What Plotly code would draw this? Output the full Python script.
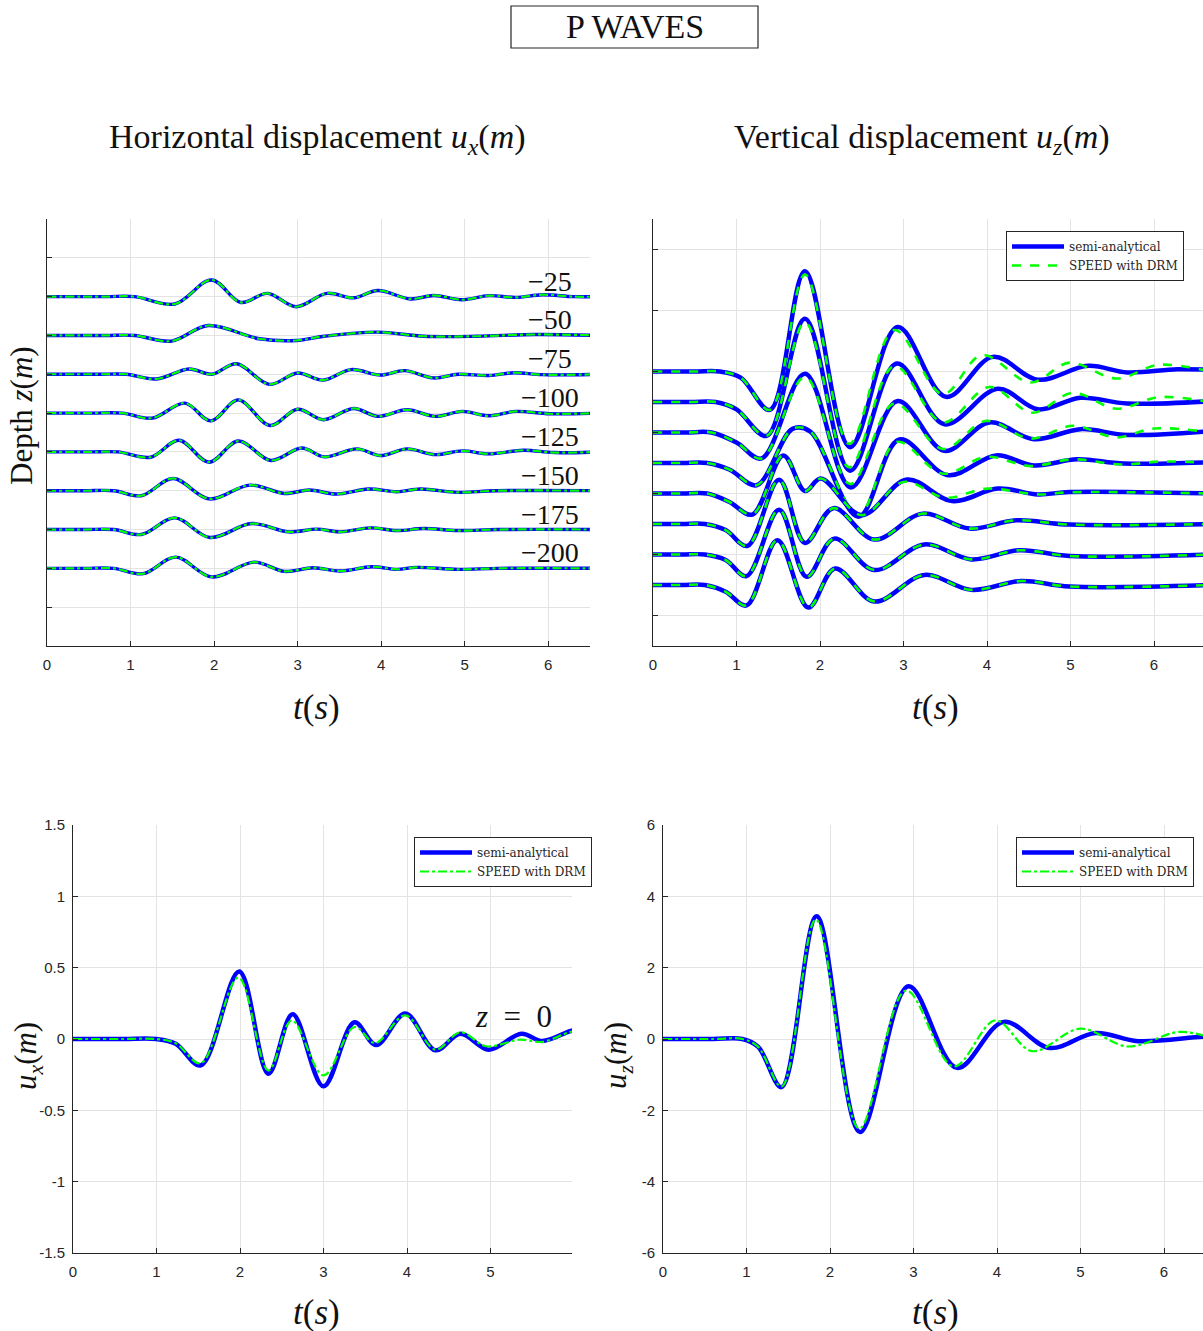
import plotly.graph_objects as go

# ---------------------------------------------------------------------------
# Data: P-wave displacement time histories (t in s, displacement in m)
# ---------------------------------------------------------------------------
DEPTHS = [-25, -50, -75, -100, -125, -150, -175, -200]
DEPTH_LABELS = ["\u221225", "\u221250", "\u221275", "\u2212100",
                "\u2212125", "\u2212150", "\u2212175", "\u2212200"]
TRACE_SCALE = 25  # metres of depth offset per metre of displacement

# Horizontal displacement u_x at depth (semi-analytical and SPEED coincide)
ux_t_25 = [0, 0.7, 1.05, 1.53, 1.97, 2.32, 2.64, 2.98, 3.35, 3.67, 3.96, 4.35, 4.63, 4.97, 5.29, 5.61, 5.93, 6.3, 6.6]
ux_25 = [0, 0, 0, -0.19, 0.43, -0.15, 0.085, -0.26, 0.085, -0.03, 0.16, -0.06, 0.03, -0.08, 0.025, -0.02, 0.05, 0.0, 0.0]
ux_t_50 = [0, 0.7, 1.05, 1.49, 1.93, 2.54, 2.98, 3.32, 3.96, 4.51, 5.15, 5.84, 6.6]
ux_50 = [0, 0, 0, -0.145, 0.256, -0.085, -0.13, -0.02, 0.085, -0.02, -0.02, 0.025, 0]
ux_t_75 = [0, 0.6, 0.95, 1.31, 1.70, 1.97, 2.27, 2.66, 3.0, 3.30, 3.64, 3.99, 4.28, 4.63, 4.92, 5.29, 5.59, 5.93, 6.6]
ux_75 = [0, 0, 0, -0.12, 0.137, 0.0, 0.27, -0.26, 0.034, -0.15, 0.12, -0.02, 0.094, -0.094, 0.0, -0.03, 0.04, -0.01, 0]
ux_t_100 = [0, 0.55, 0.9, 1.26, 1.65, 1.96, 2.29, 2.67, 3.0, 3.31, 3.67, 3.96, 4.31, 4.65, 4.97, 5.29, 5.61, 6.02, 6.6]
ux_100 = [0, 0, 0, -0.13, 0.256, -0.2, 0.34, -0.32, 0.10, -0.17, 0.12, -0.085, 0.085, -0.085, 0.043, -0.07, 0.043, -0.017, 0]
ux_t_125 = [0, 0.5, 0.85, 1.24, 1.58, 1.94, 2.29, 2.68, 3.05, 3.32, 3.71, 3.99, 4.31, 4.65, 4.97, 5.29, 5.70, 6.07, 6.6]
ux_125 = [0, 0, 0, -0.137, 0.30, -0.265, 0.28, -0.22, 0.10, -0.128, 0.077, -0.094, 0.077, -0.07, 0.026, -0.05, 0.043, -0.017, 0]
ux_t_150 = [0, 0.45, 0.8, 1.13, 1.51, 1.94, 2.43, 2.84, 3.14, 3.46, 3.85, 4.19, 4.47, 4.92, 5.38, 6.6]
ux_150 = [0, 0, 0, -0.128, 0.316, -0.21, 0.145, -0.07, 0.017, -0.085, 0.043, -0.026, 0.043, -0.043, 0, 0]
ux_t_175 = [0, 0.45, 0.8, 1.13, 1.53, 1.95, 2.45, 2.89, 3.23, 3.51, 3.87, 4.19, 4.51, 4.92, 5.4, 6.6]
ux_175 = [0, 0, 0, -0.128, 0.30, -0.205, 0.154, -0.06, 0.01, -0.06, 0.043, -0.026, 0.026, -0.026, 0, 0]
ux_t_200 = [0, 0.45, 0.8, 1.15, 1.54, 1.97, 2.48, 2.84, 3.19, 3.51, 3.89, 4.19, 4.42, 4.92, 5.4, 6.6]
ux_200 = [0, 0, 0, -0.137, 0.29, -0.22, 0.16, -0.077, 0.017, -0.068, 0.043, -0.026, 0.026, -0.026, 0, 0]

# Vertical displacement u_z at depth: semi-analytical
uz_t_25 = [0, 0.5, 0.8, 1.05, 1.40, 1.82, 2.36, 2.93, 3.51, 4.07, 4.61, 5.21, 5.68, 6.28, 6.7]
uz_25 = [0, 0, 0, -0.2, -1.26, 3.29, -2.48, 1.46, -0.83, 0.48, -0.27, 0.185, -0.03, 0.076, 0.05]
uz_t_50 = [0, 0.45, 0.75, 1.0, 1.36, 1.82, 2.36, 2.92, 3.49, 4.13, 4.61, 5.12, 5.68, 6.7]
uz_50 = [0, 0, 0, -0.24, -1.11, 2.73, -2.25, 1.26, -0.73, 0.435, -0.24, 0.14, -0.05, 0.03]
uz_t_75 = [0, 0.4, 0.7, 1.0, 1.30, 1.82, 2.37, 2.93, 3.49, 4.03, 4.56, 5.12, 5.68, 6.7]
uz_75 = [0, 0, 0, -0.33, -0.85, 1.93, -1.80, 1.03, -0.60, 0.33, -0.22, 0.11, -0.08, 0.05]
uz_t_100 = [0, 0.35, 0.65, 0.92, 1.24, 1.67, 1.88, 2.46, 2.95, 3.53, 4.11, 4.56, 5.08, 5.64, 6.7]
uz_100 = [0, 0, 0, -0.22, -0.73, 1.12, 1.04, -1.76, 0.77, -0.40, 0.25, -0.08, 0.12, -0.02, 0.03]
uz_t_125 = [0, 0.35, 0.65, 0.91, 1.19, 1.56, 1.82, 2.01, 2.50, 3.04, 3.58, 4.13, 4.61, 4.99, 6.7]
uz_125 = [0, 0, 0, -0.27, -0.69, 1.25, 0.08, 0.49, -0.71, 0.46, -0.25, 0.16, -0.03, 0.05, 0]
uz_t_150 = [0, 0.35, 0.62, 0.87, 1.13, 1.51, 1.82, 2.16, 2.65, 3.23, 3.79, 4.35, 4.99, 6.7]
uz_150 = [0, 0, 0, -0.2, -0.72, 1.45, -0.62, 0.52, -0.51, 0.34, -0.15, 0.12, -0.02, 0]
uz_t_175 = [0, 0.35, 0.62, 0.87, 1.12, 1.51, 1.84, 2.17, 2.65, 3.25, 3.81, 4.39, 4.99, 6.7]
uz_175 = [0, 0, 0, -0.18, -0.71, 1.47, -0.73, 0.52, -0.51, 0.33, -0.16, 0.14, -0.05, 0]
uz_t_200 = [0, 0.35, 0.62, 0.87, 1.12, 1.49, 1.86, 2.18, 2.65, 3.25, 3.81, 4.41, 4.99, 6.7]
uz_200 = [0, 0, 0, -0.22, -0.67, 1.47, -0.74, 0.54, -0.54, 0.33, -0.16, 0.13, -0.05, 0]

# Vertical displacement u_z at depth: SPEED with DRM
sp_t_25 = [0, 0.5, 0.8, 1.05, 1.40, 1.82, 2.35, 2.89, 3.47, 3.94, 4.52, 4.99, 5.55, 6.06, 6.7]
sp_25 = [0, 0, 0, -0.2, -1.26, 3.18, -2.37, 1.36, -0.74, 0.54, -0.36, 0.29, -0.23, 0.22, -0.02]
sp_t_50 = [0, 0.45, 0.75, 1.0, 1.36, 1.82, 2.35, 2.89, 3.47, 4.03, 4.54, 5.03, 5.55, 6.06, 6.7]
sp_50 = [0, 0, 0, -0.24, -1.11, 2.61, -2.14, 1.18, -0.67, 0.49, -0.35, 0.30, -0.22, 0.16, -0.02]
sp_t_75 = [0, 0.4, 0.7, 1.0, 1.30, 1.82, 2.36, 2.89, 3.47, 3.99, 4.52, 5.03, 5.55, 6.0, 6.7]
sp_75 = [0, 0, 0, -0.33, -0.85, 1.82, -1.69, 0.95, -0.54, 0.38, -0.2, 0.22, -0.16, 0.13, 0]
sp_t_100 = [0, 0.35, 0.65, 0.92, 1.24, 1.67, 1.88, 2.46, 2.92, 3.47, 3.99, 4.52, 5.03, 5.6, 6.1, 6.7]
sp_100 = [0, 0, 0, -0.22, -0.73, 1.12, 1.04, -1.69, 0.69, -0.35, 0.2, -0.1, 0.12, -0.05, 0.05, 0]
sp_t_125 = [0, 0.35, 0.65, 0.91, 1.19, 1.56, 1.82, 2.01, 2.50, 3.0, 3.5, 4.0, 4.6, 5.0, 6.7]
sp_125 = [0, 0, 0, -0.27, -0.69, 1.25, 0.08, 0.49, -0.71, 0.38, -0.14, 0.16, -0.03, 0.04, 0]
sp_t_150, sp_150 = uz_t_150, uz_150
sp_t_175, sp_175 = uz_t_175, uz_175
sp_t_200, sp_200 = uz_t_200, uz_200

# Surface (z = 0) records
ux0_t = [0, 0.6, 1.0, 1.23, 1.53, 1.99, 2.34, 2.63, 3.0, 3.37, 3.63, 3.98, 4.34, 4.64, 4.98, 5.37, 5.62, 5.96, 6.1]
ux0 = [0, 0, 0, -0.033, -0.185, 0.474, -0.243, 0.173, -0.332, 0.117, -0.042, 0.178, -0.079, 0.037, -0.075, 0.037, -0.014, 0.056, 0.07]
ux0_sp_t = [0, 0.6, 1.0, 1.23, 1.53, 1.98, 2.34, 2.62, 3.0, 3.37, 3.62, 3.98, 4.34, 4.64, 4.95, 5.35, 5.62, 5.96, 6.1]
ux0_sp = [0, 0, 0, -0.03, -0.17, 0.43, -0.22, 0.13, -0.255, 0.084, -0.028, 0.166, -0.075, 0.047, -0.051, -0.005, -0.02, 0.05, 0.06]
uz0_t = [0, 0.6, 0.95, 1.14, 1.42, 1.84, 2.36, 2.94, 3.52, 4.08, 4.63, 5.18, 5.69, 6.45, 6.6]
uz0 = [0, 0, 0, -0.22, -1.35, 3.44, -2.61, 1.48, -0.81, 0.48, -0.25, 0.17, -0.06, 0.06, 0.06]
uz0_sp_t = [0, 0.6, 0.95, 1.14, 1.42, 1.83, 2.35, 2.91, 3.48, 3.98, 4.42, 5.0, 5.57, 6.19, 6.6]
uz0_sp = [0, 0, 0, -0.22, -1.33, 3.35, -2.51, 1.36, -0.77, 0.52, -0.34, 0.29, -0.21, 0.2, 0.0]

T_TICKS = [0, 1, 2, 3, 4, 5, 6]
UX_TICKS = [-1.5, -1, -0.5, 0, 0.5, 1, 1.5]
UX_TICKTEXT = ["-1.5", "-1", "-0.5", "0", "0.5", "1", "1.5"]
UZ_TICKS = [-6, -4, -2, 0, 2, 4, 6]
UZ_TICKTEXT = ["-6", "-4", "-2", "0", "2", "4", "6"]

UX_SERIES = [(ux_t_25, ux_25), (ux_t_50, ux_50), (ux_t_75, ux_75), (ux_t_100, ux_100),
             (ux_t_125, ux_125), (ux_t_150, ux_150), (ux_t_175, ux_175), (ux_t_200, ux_200)]
UZ_SERIES = [(uz_t_25, uz_25), (uz_t_50, uz_50), (uz_t_75, uz_75), (uz_t_100, uz_100),
             (uz_t_125, uz_125), (uz_t_150, uz_150), (uz_t_175, uz_175), (uz_t_200, uz_200)]
SP_SERIES = [(sp_t_25, sp_25), (sp_t_50, sp_50), (sp_t_75, sp_75), (sp_t_100, sp_100),
             (sp_t_125, sp_125), (sp_t_150, sp_150), (sp_t_175, sp_175), (sp_t_200, sp_200)]

# ---------------------------------------------------------------------------
# Styling
# ---------------------------------------------------------------------------
W, H = 1203, 1331
BLUE = "#0000ff"
GREEN = "#00ff00"
AXIS = "#262626"
GRID = "#e3e3e3"
SERIF = "Liberation Serif, Times New Roman, serif"
WIDE_SERIF = "DejaVu Serif, Liberation Serif, serif"
SANS = "Liberation Sans, Arial, sans-serif"
INK = "#111111"


def px_x(p):
    return p / W


def px_y(p):
    return 1 - p / H


fig = go.Figure()


def add_pair(xref, yref, t_a, y_a, t_b, y_b, wa, wb, dash, legend="legend", show=False):
    fig.add_trace(go.Scatter(
        x=t_a, y=y_a, mode="lines", xaxis=xref, yaxis=yref,
        line=dict(color=BLUE, width=wa, shape="spline", smoothing=1.0),
        name="semi-analytical", showlegend=show, legend=legend))
    fig.add_trace(go.Scatter(
        x=t_b, y=y_b, mode="lines", xaxis=xref, yaxis=yref,
        line=dict(color=GREEN, width=wb, dash=dash, shape="spline", smoothing=1.0),
        name="SPEED with DRM", showlegend=show, legend=legend))


# Top-left: horizontal displacement traces offset by depth
for z, (t, u) in zip(DEPTHS, UX_SERIES):
    y = [z + TRACE_SCALE * v for v in u]
    add_pair("x", "y", t, y, t, y, 3.4, 2.2, "dashdot")

# Top-right: vertical displacement traces offset by depth
for i, (z, (ta, ua), (tb, ub)) in enumerate(zip(DEPTHS, UZ_SERIES, SP_SERIES)):
    ya = [z + TRACE_SCALE * v for v in ua]
    yb = [z + TRACE_SCALE * v for v in ub]
    add_pair("x2", "y2", ta, ya, tb, yb, 4.5, 2.6, "dash", legend="legend", show=(i == 0))

# Bottom: surface records
add_pair("x3", "y3", ux0_t, ux0, ux0_sp_t, ux0_sp, 4.5, 2.2, "dashdot", legend="legend2", show=True)
add_pair("x4", "y4", uz0_t, uz0, uz0_sp_t, uz0_sp, 4.5, 2.2, "dashdot", legend="legend3", show=True)

axis_common = dict(showline=True, linecolor=AXIS, linewidth=1, mirror=False, automargin=False,
                   showgrid=True, gridcolor=GRID, gridwidth=1, zeroline=False,
                   ticks="inside", ticklen=5, tickcolor=AXIS,
                   tickfont=dict(family=SANS, size=15, color=AXIS))
x_common = dict(ticklabelstandoff=5, **axis_common)
y_common = dict(ticklabelstandoff=4, **axis_common)

TOP = (px_y(646), px_y(219))
BOT = (px_y(1253), px_y(825))

fig.update_layout(
    xaxis=dict(domain=[px_x(47), px_x(590)], range=[0, 6.5], tickvals=T_TICKS, anchor="y", **x_common),
    yaxis=dict(domain=list(TOP), range=[-250, 25], tick0=-250, dtick=25, showticklabels=False,
               anchor="x", **y_common),
    xaxis2=dict(domain=[px_x(653), 1.0], range=[0, 550 / 83.5], tickvals=T_TICKS, anchor="y2", **x_common),
    yaxis2=dict(domain=list(TOP), range=[-250, 100], tickvals=[-225, -175, -125, -75, -25, 25, 75],
                showticklabels=False, anchor="x2", **y_common),
    xaxis3=dict(domain=[px_x(73), px_x(572)], range=[0, 499 / 83.5], tickvals=T_TICKS, anchor="y3", **x_common),
    yaxis3=dict(domain=list(BOT), range=[-1.5, 1.5], tickvals=UX_TICKS, ticktext=UX_TICKTEXT,
                anchor="x3", **y_common),
    xaxis4=dict(domain=[px_x(663), 1.0], range=[0, 540 / 83.5], tickvals=T_TICKS, anchor="y4", **x_common),
    yaxis4=dict(domain=list(BOT), range=[-6, 6], tickvals=UZ_TICKS, ticktext=UZ_TICKTEXT,
                anchor="x4", **y_common),
)

legend_common = dict(bgcolor="white", bordercolor=AXIS, borderwidth=1,
                     font=dict(family=WIDE_SERIF, size=12, color=AXIS),
                     itemwidth=52, tracegroupgap=0, yanchor="top")
fig.update_layout(
    legend=dict(x=px_x(1184), y=px_y(231), xanchor="right", **legend_common),
    legend2=dict(x=px_x(414), y=px_y(837), xanchor="left", **legend_common),
    legend3=dict(x=px_x(1194), y=px_y(837), xanchor="right", **legend_common),
)

annotations = []


def note(text, x, y, size, angle=0, xref="paper", yref="paper"):
    annotations.append(dict(text=text, x=x, y=y, xref=xref, yref=yref, showarrow=False,
                            textangle=angle, xanchor="center", yanchor="middle",
                            font=dict(family=SERIF, size=size, color=INK)))


# Figure title in a box
note("P WAVES", px_x(635), px_y(27), 34)
# Column titles
note("Horizontal displacement <i>u</i><sub><i>x</i></sub>(<i>m</i>)", px_x(317), px_y(139), 34)
note("Vertical displacement <i>u</i><sub><i>z</i></sub>(<i>m</i>)", px_x(922), px_y(139), 34)
# Axis titles
for cx, cy in [(316, 707), (935, 707), (316, 1312), (935, 1312)]:
    note("<i>t</i>(<i>s</i>)", px_x(cx), px_y(cy), 35)
note("Depth <i>z</i>(<i>m</i>)", px_x(22), px_y(416), 31, angle=-90)
note("<i>u</i><sub><i>x</i></sub>(<i>m</i>)", px_x(28), px_y(1056), 31, angle=-90)
note("<i>u</i><sub><i>z</i></sub>(<i>m</i>)", px_x(618), px_y(1056), 31, angle=-90)
# Depth labels next to each horizontal trace
for z, lab in zip(DEPTHS, DEPTH_LABELS):
    note(lab, 6.02, z + 10, 28, xref="x", yref="y")
# Station label for the surface record
note("<i>z</i>\u2002=\u20020", 5.28, 0.16, 31, xref="x3", yref="y3")

fig.update_layout(
    template="none",
    annotations=annotations,
    shapes=[dict(type="rect", xref="paper", yref="paper",
                 x0=px_x(511), x1=px_x(758), y0=px_y(48), y1=px_y(6),
                 line=dict(color=AXIS, width=1.2), fillcolor="rgba(0,0,0,0)")],
    width=W, height=H, autosize=False,
    margin=dict(l=0, r=0, t=0, b=0, pad=0),
    paper_bgcolor="white", plot_bgcolor="white",
)

fig.write_html("out.html")
